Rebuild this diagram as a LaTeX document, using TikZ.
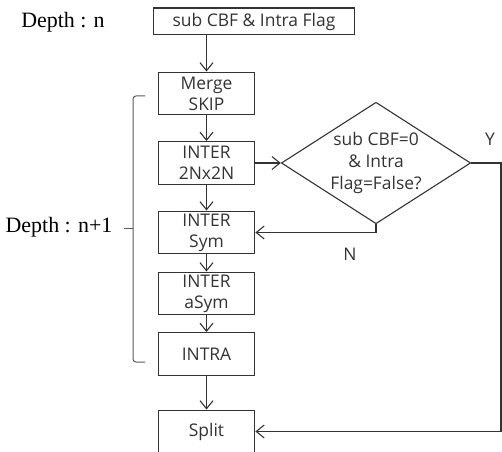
\documentclass[tikz,border=0pt]{standalone}
\usepackage{fontspec}
\setmainfont{Open Sans}
\newfontfamily\depthfont{Liberation Serif}
\usetikzlibrary{arrows.meta,positioning,shapes.geometric}
\definecolor{ink}{HTML}{333333}
\definecolor{inkgray}{HTML}{5A5A5A}
\tikzset{
  flowbox/.style={draw=ink,line width=1.1pt,text=ink,
                  minimum width=97pt,minimum height=43pt,
                  align=center,font=\fontsize{17.5}{21}\selectfont,inner sep=0pt},
  decision/.style={diamond,draw=ink,line width=1.1pt,
                   minimum width=190pt,minimum height=122pt,aspect=1.56,inner sep=0pt},
  decisiontext/.style={text=ink,align=center,font=\fontsize{17.5}{22}\selectfont,inner sep=0pt},
  flowarr/.style={-{Straight Barb[length=8pt,width=13pt]},line width=1.1pt,draw=ink},
  depthlabel/.style={font=\depthfont\fontsize{22}{24}\selectfont,text=black,inner sep=0pt},
  ynlabel/.style={font=\fontsize{17.5}{20}\selectfont,text=ink,inner sep=0pt}
}

\begin{document}
\begin{tikzpicture}[x=1bp,y=-1bp]
  \useasboundingbox (0,0) rectangle (502,452);
  % main column
  \node[flowbox,minimum width=202pt,minimum height=27pt] (flag) at (254,21.5) {sub CBF \& Intra Flag};
  \node[flowbox] (merge) at (206.5,93.5) {Merge\\SKIP};
  \node[flowbox] (inter2n) at (206.5,163) {INTER\\2Nx2N};
  \node[flowbox] (sym) at (206.5,232.5) {INTER\\Sym};
  \node[flowbox] (asym) at (206.5,293.5) {INTER\\aSym};
  \node[flowbox] (intra) at (206.5,354) {INTRA};
  \node[flowbox] (split) at (206.5,431.5) {Split};
  \node[decision,label={[decisiontext]center:sub CBF=0\\\& Intra\\Flag=False?}] (check) at (376,163) {};
  \draw[flowarr] (merge|-flag.south) -- (merge.north);
  \draw[flowarr] (merge) -- (inter2n);
  \draw[flowarr] (inter2n) -- (sym);
  \draw[flowarr] (sym) -- (asym);
  \draw[flowarr] (asym) -- (intra);
  \draw[flowarr] (intra) -- (split);
  \draw[flowarr] (inter2n) -- (check);
  \draw[flowarr] (check.south) |- (sym.east);
  \coordinate (yturn) at (501,163);
  \draw[flowarr] (check.east) -- (yturn) |- (split.east);
  \node[ynlabel] (nmark) at (350,254) {N};
  \node[ynlabel] (ymark) at (490,139) {Y};
  % depth labels and bracket
  \node[depthlabel] (depthn) at (63,22) {Depth : n};
  \node[depthlabel] (depthn1) at (59,227) {Depth : n+1};
  \draw[inkgray,line width=1pt,rounded corners=3pt] (145,96) -- (133,96) -- (133,362) -- (145,362);
  \draw[inkgray,line width=1pt] (133,228) -- (124,228);
\end{tikzpicture}
\end{document}
